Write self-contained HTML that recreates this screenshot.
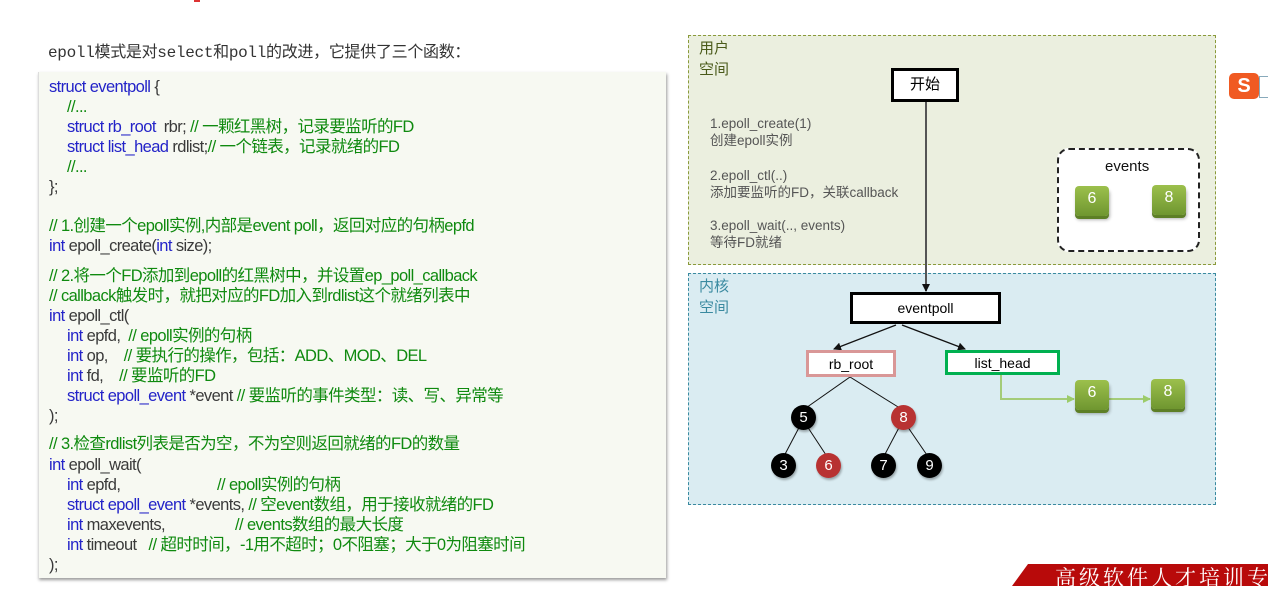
<!DOCTYPE html>
<html><head><meta charset="utf-8"><style>
*{margin:0;padding:0;box-sizing:border-box}
body{width:1268px;height:583px;background:#fff;position:relative;overflow:hidden;font-family:"Liberation Sans","Noto Sans CJK SC",sans-serif}
.a{position:absolute;white-space:nowrap}
#code{position:absolute;left:38px;top:72px;width:628px;height:506px;background:#f7f9f2;box-shadow:1px 2px 3px #999;border-left:1px solid #ddd}
.l{position:absolute;left:10px;font-size:16.5px;line-height:20px;height:20px;color:#3a3a3a;white-space:nowrap;letter-spacing:-0.6px}
.l span{line-height:20px}
.k{color:#2323c8}.c{color:#0f8a0f}
.i{left:28px}
.node{position:absolute;width:25px;height:25px;border-radius:50%;color:#fff;font-size:15px;text-align:center;line-height:25px;box-shadow:1px 2px 2px rgba(0,0,0,.3)}
.b{background:#000}.r{background:#b83232}
.g{position:absolute;width:34px;height:30px;border-radius:4px;background:linear-gradient(#9cc04c,#6f9630);color:#fff;font-size:16px;text-align:center;line-height:26px;box-shadow:0 3px 0 #5d7f26,1px 4px 3px rgba(0,0,0,.3)}
.t{position:absolute;left:710px;font-size:13.5px;line-height:17px;color:#555;white-space:nowrap}
</style></head><body>
<div class="a" style="left:194px;top:0;width:6px;height:2px;background:#d33"></div>
<div class="a" style="left:48px;top:42px;font-family:'Liberation Mono','Noto Sans CJK SC',monospace;font-size:16px;line-height:22px;color:#333;letter-spacing:-0.3px">epoll模式是对select和poll的改进，它提供了三个函数：</div>
<div id="code">
<div class="l" style="top:5px"><span class="k">struct eventpoll</span> {</div>
<div class="l i c" style="top:25px">//...</div>
<div class="l i" style="top:45px"><span class="k">struct rb_root</span>&nbsp; rbr; <span class="c">// 一颗红黑树，记录要监听的FD</span></div>
<div class="l i" style="top:65px"><span class="k">struct list_head</span> rdlist;<span class="c">// 一个链表，记录就绪的FD</span></div>
<div class="l i c" style="top:85px">//...</div>
<div class="l" style="top:105px">};</div>
<div class="l c" style="top:144px">// 1.创建一个epoll实例,内部是event poll，返回对应的句柄epfd</div>
<div class="l" style="top:164px"><span class="k">int</span> epoll_create(<span class="k">int</span> size);</div>
<div class="l c" style="top:194px">// 2.将一个FD添加到epoll的红黑树中，并设置ep_poll_callback</div>
<div class="l c" style="top:214px">// callback触发时，就把对应的FD加入到rdlist这个就绪列表中</div>
<div class="l" style="top:234px"><span class="k">int</span> epoll_ctl(</div>
<div class="l i" style="top:254px"><span class="k">int</span> epfd,&nbsp; <span class="c">// epoll实例的句柄</span></div>
<div class="l i" style="top:274px"><span class="k">int</span> op,&nbsp;&nbsp;&nbsp; <span class="c">// 要执行的操作，包括：ADD、MOD、DEL</span></div>
<div class="l i" style="top:294px"><span class="k">int</span> fd,&nbsp;&nbsp;&nbsp; <span class="c">// 要监听的FD</span></div>
<div class="l i" style="top:314px"><span class="k">struct epoll_event</span> *event <span class="c">// 要监听的事件类型：读、写、异常等</span></div>
<div class="l" style="top:334px">);</div>
<div class="l c" style="top:362px">// 3.检查rdlist列表是否为空，不为空则返回就绪的FD的数量</div>
<div class="l" style="top:383px"><span class="k">int</span> epoll_wait(</div>
<div class="l i" style="top:403px"><span class="k">int</span> epfd,<span class="c" style="position:absolute;left:150px">// epoll实例的句柄</span></div>
<div class="l i" style="top:423px"><span class="k">struct epoll_event</span> *events, <span class="c">// 空event数组，用于接收就绪的FD</span></div>
<div class="l i" style="top:443px"><span class="k">int</span> maxevents,<span class="c" style="position:absolute;left:168px">// events数组的最大长度</span></div>
<div class="l i" style="top:463px"><span class="k">int</span> timeout&nbsp;&nbsp; <span class="c">// 超时时间，-1用不超时；0不阻塞；大于0为阻塞时间</span></div>
<div class="l" style="top:483px">);</div>
</div>

<div class="a" style="left:688px;top:35px;width:528px;height:230px;background:#ebefdf;border:1px dashed #8a9a3a"></div>
<div class="a" style="left:688px;top:273px;width:528px;height:232px;background:#daecf2;border:1px dashed #3a8aa0"></div>
<div class="a" style="left:699px;top:38px;font-size:15px;line-height:21px;color:#4a5a1a">用户<br>空间</div>
<div class="a" style="left:699px;top:276px;font-size:15px;line-height:21px;color:#3a8aa0">内核<br>空间</div>
<div class="t" style="top:115px">1.epoll_create(1)<br>创建epoll实例</div>
<div class="t" style="top:167px">2.epoll_ctl(..)<br>添加要监听的FD，关联callback</div>
<div class="t" style="top:217px">3.epoll_wait(.., events)<br>等待FD就绪</div>

<div class="a" style="left:1057px;top:148px;width:143px;height:104px;border:2px dashed #222;border-radius:12px;background:#fff"></div>
<div class="a" style="left:1105px;top:158px;font-size:15px;color:#111">events</div>
<div class="g" style="left:1075px;top:186px">6</div>
<div class="g" style="left:1152px;top:185px">8</div>

<svg class="a" style="left:0;top:0" width="1268" height="583">
<defs><marker id="m" markerWidth="8" markerHeight="8" refX="7" refY="4" orient="auto" markerUnits="userSpaceOnUse"><path d="M0,0L8,4L0,8z" fill="#111"/></marker>
<marker id="mg" markerWidth="8" markerHeight="8" refX="7" refY="4" orient="auto" markerUnits="userSpaceOnUse"><path d="M0,0L8,4L0,8z" fill="#9ccc6a"/></marker></defs>
<line x1="926" y1="101" x2="926" y2="291" stroke="#555" stroke-width="2" marker-end="url(#m)"/>
<line x1="896" y1="325" x2="834" y2="349" stroke="#111" stroke-width="1.3" marker-end="url(#m)"/>
<line x1="902" y1="325" x2="965" y2="349" stroke="#111" stroke-width="1.3" marker-end="url(#m)"/>
<line x1="850" y1="377" x2="803" y2="410" stroke="#111"/>
<line x1="850" y1="377" x2="903" y2="410" stroke="#111"/>
<line x1="803" y1="420" x2="783" y2="458" stroke="#111"/>
<line x1="803" y1="420" x2="828" y2="458" stroke="#111"/>
<line x1="903" y1="420" x2="883" y2="458" stroke="#111"/>
<line x1="903" y1="420" x2="929" y2="458" stroke="#111"/>
<polyline points="1001,375 1001,399 1074,399" fill="none" stroke="#a4cc78" stroke-width="2" marker-end="url(#mg)"/>
<line x1="1109" y1="399" x2="1150" y2="399" stroke="#a4cc78" stroke-width="2" marker-end="url(#mg)"/>
</svg>

<div class="a" style="left:891px;top:68px;width:68px;height:34px;border:3px solid #000;background:#fff;text-align:center;line-height:28px;font-size:15px">开始</div>
<div class="a" style="left:850px;top:292px;width:151px;height:32px;border:3px solid #000;background:#fff;text-align:center;line-height:26px;font-size:14px">eventpoll</div>
<div class="a" style="left:806px;top:350px;width:90px;height:27px;border:3px solid #d99797;background:#fff;text-align:center;line-height:22px;font-size:14px">rb_root</div>
<div class="a" style="left:945px;top:350px;width:115px;height:25px;border:3px solid #00b050;background:#fff;text-align:center;line-height:21px;font-size:14px">list_head</div>

<div class="node b" style="left:791px;top:405px">5</div>
<div class="node r" style="left:891px;top:405px">8</div>
<div class="node b" style="left:771px;top:453px">3</div>
<div class="node r" style="left:816px;top:453px">6</div>
<div class="node b" style="left:871px;top:453px">7</div>
<div class="node b" style="left:917px;top:453px">9</div>
<div class="g" style="left:1075px;top:380px">6</div>
<div class="g" style="left:1151px;top:379px">8</div>

<div class="a" style="left:1229px;top:73px;width:30px;height:26px;background:#f05a22;border-radius:5px;color:#fff;font-weight:bold;text-align:center;font-size:20px;line-height:26px">S</div>
<div class="a" style="left:1259px;top:76px;width:9px;height:22px;border:1px solid #8ab;border-right:none;background:#fff"></div>

<div class="a" style="left:1012px;top:564px;width:260px;height:22px;background:#b80a0a;clip-path:polygon(16px 0,100% 0,100% 100%,0 100%)"></div>
<div class="a" style="left:1055px;top:563px;font-family:'Noto Serif CJK SC',serif;font-size:21px;line-height:28px;color:#fff;letter-spacing:3px">高级软件人才培训专家</div>
</body></html>
